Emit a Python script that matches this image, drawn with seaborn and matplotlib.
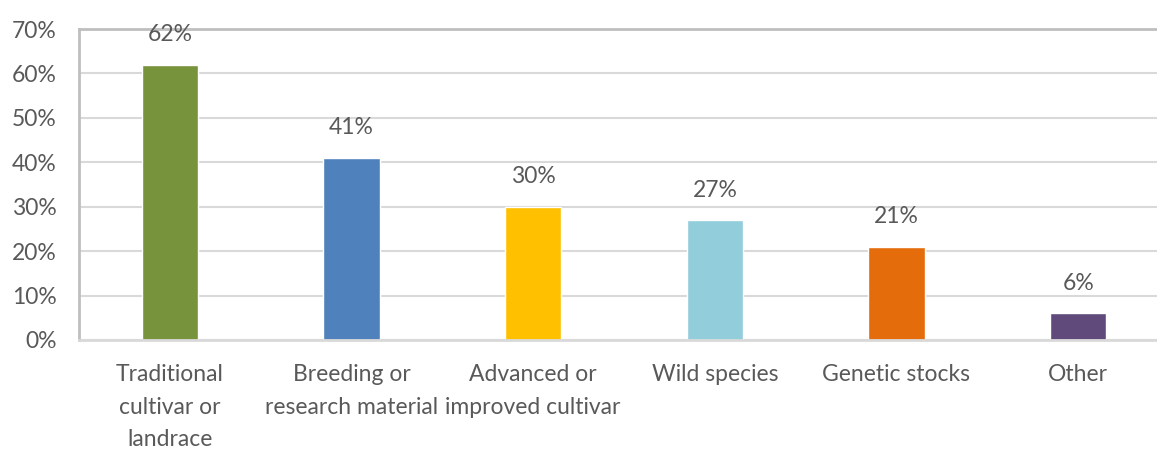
import matplotlib
matplotlib.use("Agg")
import matplotlib.pyplot as plt
import seaborn as sns
import pandas as pd
from matplotlib.ticker import FuncFormatter

categories = [
    "Traditional\ncultivar or\nlandrace",
    "Breeding or\nresearch material",
    "Advanced or\nimproved cultivar",
    "Wild species",
    "Genetic stocks",
    "Other",
]
shares = [62, 41, 30, 27, 21, 6]
bar_colors = ["#77933C", "#4F81BD", "#FFC000", "#92CDDC", "#E46C0A", "#604A7B"]
y_ticks = [0, 10, 20, 30, 40, 50, 60, 70]

sns.set_theme(style="white")
plt.rcParams["font.family"] = ["Lato", "DejaVu Sans"]

df = pd.DataFrame({"category": categories, "share": shares})

fig = plt.figure(figsize=(11.57, 4.51), dpi=100)
ax = fig.add_axes([79 / 1157, 111 / 451, 1090 / 1157, 311 / 451])

sns.barplot(
    data=df, x="category", y="share", hue="category",
    palette=bar_colors, width=0.31, legend=False, ax=ax, saturation=1,
)

ax.set_ylim(0, 70)
ax.set_xlim(-0.5, len(categories) - 0.5)
ax.set_yticks(y_ticks)
ax.yaxis.set_major_formatter(FuncFormatter(lambda v, _: f"{v:.0f}%"))
ax.grid(axis="y", color="#D9D9D9", linewidth=1.5)
ax.set_axisbelow(True)
ax.set_xlabel("")
ax.set_ylabel("")

text_color = "#595959"
ax.tick_params(axis="y", length=0, pad=16, labelsize=16.5, labelcolor=text_color)
ax.tick_params(axis="x", length=0, pad=17, labelsize=16.5, labelcolor=text_color)
for lbl in ax.get_xticklabels():
    lbl.set_linespacing(1.7)

for side in ("left", "top"):
    ax.spines[side].set_color("#BFBFBF")
    ax.spines[side].set_linewidth(2)
ax.spines["bottom"].set_color("#D9D9D9")
ax.spines["bottom"].set_linewidth(2)
ax.spines["right"].set_visible(False)

for container in ax.containers:
    ax.bar_label(container, labels=[f"{v:.0f}%" for v in container.datavalues],
                 padding=14, fontsize=16.5, color=text_color)

fig.savefig("out.png", dpi=100)
